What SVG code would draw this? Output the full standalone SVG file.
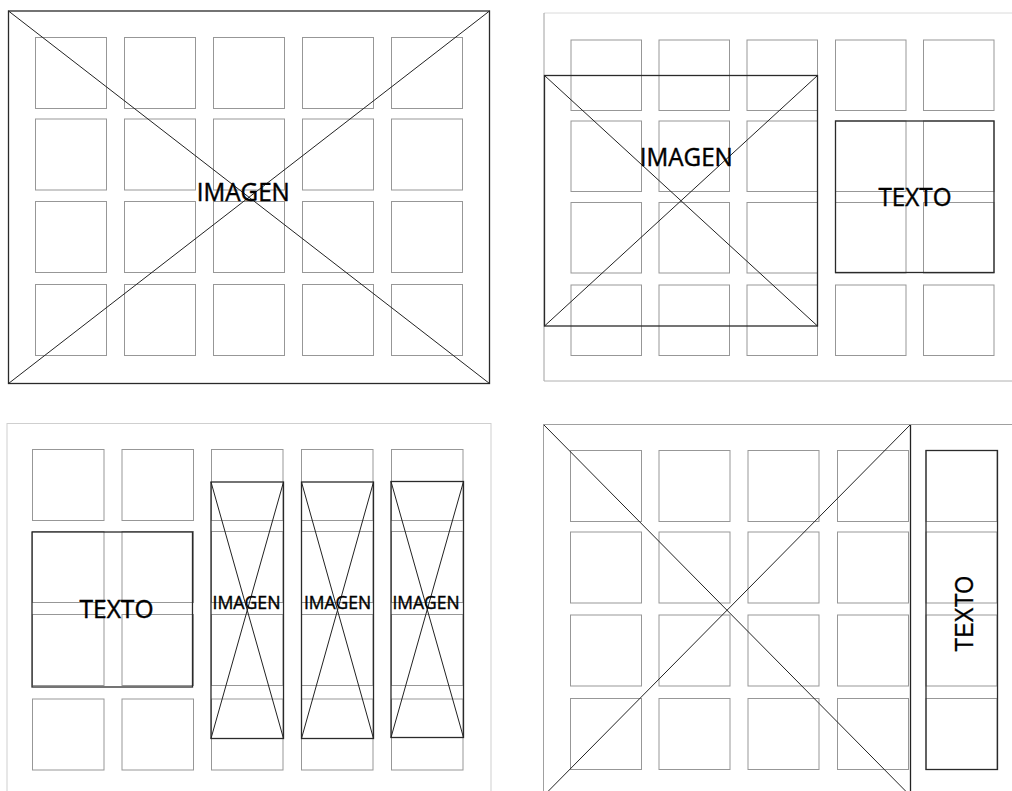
<svg xmlns="http://www.w3.org/2000/svg" width="1012" height="791" viewBox="0 0 1012 791">
<style>
.g{fill:none;stroke:#979797;stroke-width:1}
.b{fill:none;stroke:#2a2a2a;stroke-width:1.3}
.d{stroke:#222;stroke-width:1;fill:none}
.t{font-family:"Open Sans","Noto Sans",sans-serif;fill:#000;stroke:#000;stroke-width:0.45;text-anchor:middle}
.ta{font-family:"Liberation Sans",Arial,sans-serif;fill:#000;stroke:#000;stroke-width:0.3;text-anchor:middle}
</style>
<rect width="1012" height="791" fill="#fff"/>

<!-- Quadrant 1 -->
<g id="q1-grid">
<rect class="g" x="35.5" y="37.5" width="71" height="71"/><rect class="g" x="124.5" y="37.5" width="71" height="71"/><rect class="g" x="213.5" y="37.5" width="71" height="71"/><rect class="g" x="302.5" y="37.5" width="71" height="71"/><rect class="g" x="391.5" y="37.5" width="71" height="71"/>
<rect class="g" x="35.5" y="119" width="71" height="71"/><rect class="g" x="124.5" y="119" width="71" height="71"/><rect class="g" x="213.5" y="119" width="71" height="71"/><rect class="g" x="302.5" y="119" width="71" height="71"/><rect class="g" x="391.5" y="119" width="71" height="71"/>
<rect class="g" x="35.5" y="201.5" width="71" height="71"/><rect class="g" x="124.5" y="201.5" width="71" height="71"/><rect class="g" x="213.5" y="201.5" width="71" height="71"/><rect class="g" x="302.5" y="201.5" width="71" height="71"/><rect class="g" x="391.5" y="201.5" width="71" height="71"/>
<rect class="g" x="35.5" y="284.5" width="71" height="71"/><rect class="g" x="124.5" y="284.5" width="71" height="71"/><rect class="g" x="213.5" y="284.5" width="71" height="71"/><rect class="g" x="302.5" y="284.5" width="71" height="71"/><rect class="g" x="391.5" y="284.5" width="71" height="71"/>
</g>
<g id="q1-imagen">
<rect class="b" x="8.5" y="11" width="481" height="372.5"/>
<line class="d" x1="8.5" y1="11" x2="489.5" y2="383.5"/>
<line class="d" x1="489.5" y1="11" x2="8.5" y2="383.5"/>
<text class="t" x="243.3" y="200.5" font-size="25.5" textLength="93" lengthAdjust="spacingAndGlyphs">IMAGEN</text>
</g>

<!-- Quadrant 2 -->
<g id="q2-frame">
<line x1="544" y1="13" x2="1012" y2="13" stroke="#dadada" stroke-width="1"/>
<line x1="544" y1="13" x2="544" y2="381" stroke="#a0a0a0" stroke-width="1"/>
<line x1="544" y1="381" x2="1012" y2="381" stroke="#b0b0b0" stroke-width="1"/>
</g>
<g id="q2-grid">
<rect class="g" x="571" y="40" width="70.5" height="70.5"/><rect class="g" x="659" y="40" width="70.5" height="70.5"/><rect class="g" x="747" y="40" width="70.5" height="70.5"/><rect class="g" x="835.5" y="40" width="70.5" height="70.5"/><rect class="g" x="923.5" y="40" width="70.5" height="70.5"/>
<rect class="g" x="571" y="121" width="70.5" height="70.5"/><rect class="g" x="659" y="121" width="70.5" height="70.5"/><rect class="g" x="747" y="121" width="70.5" height="70.5"/><rect class="g" x="835.5" y="121" width="70.5" height="70.5"/><rect class="g" x="923.5" y="121" width="70.5" height="70.5"/>
<rect class="g" x="571" y="202.5" width="70.5" height="70.5"/><rect class="g" x="659" y="202.5" width="70.5" height="70.5"/><rect class="g" x="747" y="202.5" width="70.5" height="70.5"/><rect class="g" x="835.5" y="202.5" width="70.5" height="70.5"/><rect class="g" x="923.5" y="202.5" width="70.5" height="70.5"/>
<rect class="g" x="571" y="285" width="70.5" height="70.5"/><rect class="g" x="659" y="285" width="70.5" height="70.5"/><rect class="g" x="747" y="285" width="70.5" height="70.5"/><rect class="g" x="835.5" y="285" width="70.5" height="70.5"/><rect class="g" x="923.5" y="285" width="70.5" height="70.5"/>
</g>
<g id="q2-imagen">
<rect class="b" x="544.5" y="75.5" width="273" height="250.5"/>
<line class="d" x1="544.5" y1="75.5" x2="817.5" y2="326"/>
<line class="d" x1="817.5" y1="75.5" x2="544.5" y2="326"/>
<text class="t" x="686.3" y="165.5" font-size="25.5" textLength="93" lengthAdjust="spacingAndGlyphs">IMAGEN</text>
</g>
<g id="q2-texto">
<rect class="b" x="835.5" y="121" width="158.5" height="151.5"/>
<text class="t" x="915" y="205.5" font-size="25.5" textLength="73" lengthAdjust="spacingAndGlyphs">TEXTO</text>
</g>

<!-- Quadrant 3 -->
<g id="q3-frame">
<rect x="7" y="423.5" width="484" height="400" fill="none" stroke="#cfcfcf" stroke-width="1"/>
</g>
<g id="q3-grid">
<rect class="g" x="32.5" y="449.5" width="71.5" height="71"/><rect class="g" x="122" y="449.5" width="71.5" height="71"/><rect class="g" x="211.5" y="449.5" width="71.5" height="71"/><rect class="g" x="301.5" y="449.5" width="71.5" height="71"/><rect class="g" x="391.5" y="449.5" width="71.5" height="71"/>
<rect class="g" x="32.5" y="531.5" width="71.5" height="71"/><rect class="g" x="122" y="531.5" width="71.5" height="71"/><rect class="g" x="211.5" y="531.5" width="71.5" height="71"/><rect class="g" x="301.5" y="531.5" width="71.5" height="71"/><rect class="g" x="391.5" y="531.5" width="71.5" height="71"/>
<rect class="g" x="32.5" y="614.5" width="71.5" height="71"/><rect class="g" x="122" y="614.5" width="71.5" height="71"/><rect class="g" x="211.5" y="614.5" width="71.5" height="71"/><rect class="g" x="301.5" y="614.5" width="71.5" height="71"/><rect class="g" x="391.5" y="614.5" width="71.5" height="71"/>
<rect class="g" x="32.5" y="699" width="71.5" height="71"/><rect class="g" x="122" y="699" width="71.5" height="71"/><rect class="g" x="211.5" y="699" width="71.5" height="71"/><rect class="g" x="301.5" y="699" width="71.5" height="71"/><rect class="g" x="391.5" y="699" width="71.5" height="71"/>
</g>
<g id="q3-texto">
<rect class="b" x="32" y="532" width="160.5" height="155"/>
<text class="t" x="116.5" y="617.5" font-size="25.5" textLength="74" lengthAdjust="spacingAndGlyphs">TEXTO</text>
</g>
<g id="q3-imagen-1">
<rect class="b" x="211" y="482" width="72.5" height="256.5"/>
<line class="d" x1="211" y1="482" x2="283.5" y2="738.5"/>
<line class="d" x1="283.5" y1="482" x2="211" y2="738.5"/>
<text class="t" x="246.5" y="609" font-size="19" textLength="68" lengthAdjust="spacingAndGlyphs">IMAGEN</text>
</g>
<g id="q3-imagen-2">
<rect class="b" x="301.5" y="482" width="72" height="256.5"/>
<line class="d" x1="301.5" y1="482" x2="373.5" y2="738.5"/>
<line class="d" x1="373.5" y1="482" x2="301.5" y2="738.5"/>
<text class="t" x="337.5" y="609" font-size="19" textLength="67" lengthAdjust="spacingAndGlyphs">IMAGEN</text>
</g>
<g id="q3-imagen-3">
<rect class="b" x="391" y="481.5" width="72.5" height="256"/>
<line class="d" x1="391" y1="481.5" x2="463.5" y2="737.5"/>
<line class="d" x1="463.5" y1="481.5" x2="391" y2="737.5"/>
<text class="t" x="426" y="609" font-size="19" textLength="67" lengthAdjust="spacingAndGlyphs">IMAGEN</text>
</g>

<!-- Quadrant 4 -->
<g id="q4-grid">
<rect class="g" x="570.5" y="450.5" width="71" height="71"/><rect class="g" x="659" y="450.5" width="71" height="71"/><rect class="g" x="748" y="450.5" width="71" height="71"/><rect class="g" x="837.5" y="450.5" width="71" height="71"/><rect class="g" x="926" y="450.5" width="71" height="71"/>
<rect class="g" x="570.5" y="532" width="71" height="71"/><rect class="g" x="659" y="532" width="71" height="71"/><rect class="g" x="748" y="532" width="71" height="71"/><rect class="g" x="837.5" y="532" width="71" height="71"/><rect class="g" x="926" y="532" width="71" height="71"/>
<rect class="g" x="570.5" y="615" width="71" height="71"/><rect class="g" x="659" y="615" width="71" height="71"/><rect class="g" x="748" y="615" width="71" height="71"/><rect class="g" x="837.5" y="615" width="71" height="71"/><rect class="g" x="926" y="615" width="71" height="71"/>
<rect class="g" x="570.5" y="698.5" width="71" height="71"/><rect class="g" x="659" y="698.5" width="71" height="71"/><rect class="g" x="748" y="698.5" width="71" height="71"/><rect class="g" x="837.5" y="698.5" width="71" height="71"/><rect class="g" x="926" y="698.5" width="71" height="71"/>
</g>
<g id="q4-imagen">
<line x1="910.5" y1="424.5" x2="910.5" y2="791" stroke="#222" stroke-width="1.3"/>
<line class="d" x1="543.5" y1="424.5" x2="910.5" y2="796"/>
<line class="d" x1="910.5" y1="424.5" x2="543.5" y2="796"/>
</g>
<g id="q4-frame">
<line x1="543" y1="424.5" x2="1012" y2="424.5" stroke="#a0a0a0" stroke-width="1"/>
<line x1="543.5" y1="424.5" x2="543.5" y2="791" stroke="#a0a0a0" stroke-width="1"/>
</g>
<g id="q4-texto">
<rect class="b" x="926" y="450.5" width="71.5" height="319"/>
<text class="ta" transform="translate(973.3,613.8) rotate(-90)" font-size="25" textLength="76" lengthAdjust="spacingAndGlyphs">TEXTO</text>
</g>
</svg>
